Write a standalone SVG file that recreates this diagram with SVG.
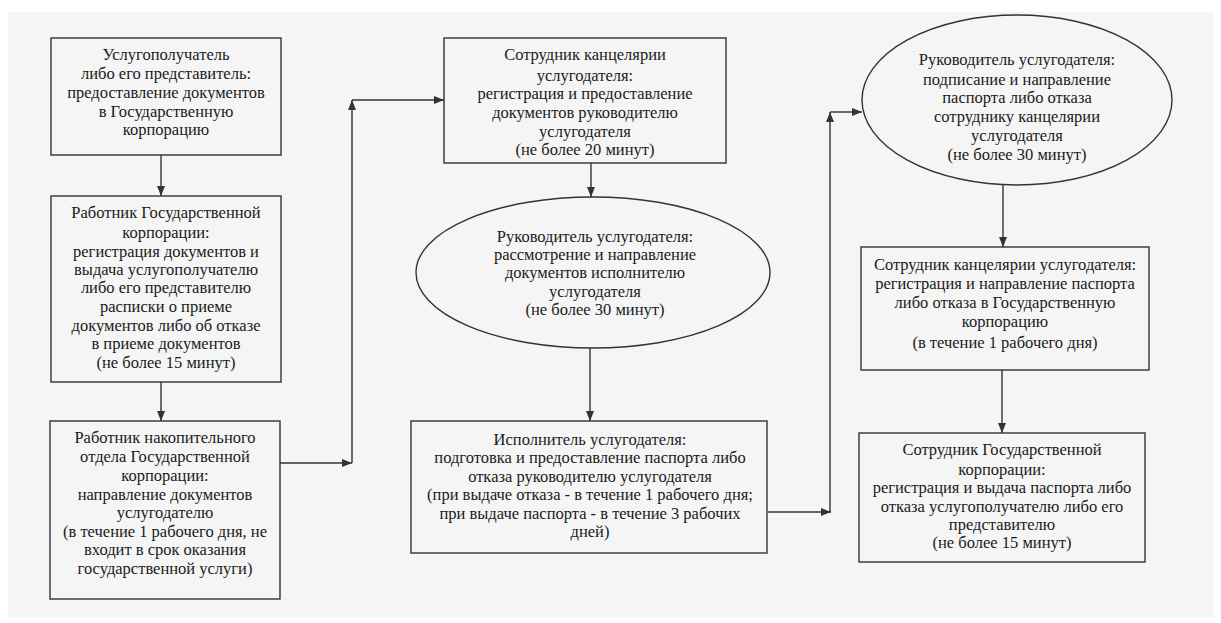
<svg xmlns="http://www.w3.org/2000/svg" width="1221" height="623" viewBox="0 0 1221 623">
<style>
.n{fill:none;stroke:#333;stroke-width:1.4}
.c{fill:none;stroke:#333;stroke-width:1.4}
text{font-family:"Liberation Serif","Times New Roman",serif;font-size:16.5px;fill:#1a1a1a;text-anchor:middle}
</style>
<defs>
<marker id="ah" viewBox="0 0 10 8" refX="10" refY="4" markerWidth="10" markerHeight="8" markerUnits="userSpaceOnUse" orient="auto">
<path d="M0,0 L10,4 L0,8 Z" fill="#333"/>
</marker>
</defs>
<rect x="0" y="0" width="1221" height="623" fill="#ffffff"/>
<rect x="8" y="12" width="1205" height="605" fill="#f5f5f5"/>

<g id="connectors">
<line class="c" x1="161" y1="155" x2="161" y2="196" marker-end="url(#ah)"/>
<line class="c" x1="161" y1="382" x2="161" y2="421" marker-end="url(#ah)"/>
<line class="c" x1="280" y1="463" x2="352" y2="463" marker-end="url(#ah)"/>
<line class="c" x1="352" y1="463" x2="352" y2="100" marker-end="url(#ah)"/>
<line class="c" x1="352" y1="100" x2="444" y2="100" marker-end="url(#ah)"/>
<line class="c" x1="591" y1="163" x2="591" y2="197" marker-end="url(#ah)"/>
<line class="c" x1="590" y1="348" x2="590" y2="421" marker-end="url(#ah)"/>
<line class="c" x1="768" y1="512" x2="831" y2="512" marker-end="url(#ah)"/>
<line class="c" x1="830" y1="512" x2="830" y2="112" marker-end="url(#ah)"/>
<line class="c" x1="830" y1="112" x2="862" y2="112" marker-end="url(#ah)"/>
<line class="c" x1="1003" y1="185" x2="1003" y2="247" marker-end="url(#ah)"/>
<line class="c" x1="1002" y1="370" x2="1002" y2="433" marker-end="url(#ah)"/>
</g>

<g id="n1">
<rect class="n" x="51" y="38" width="230" height="117"/>
<text x="166" y="60">Услугополучатель</text>
<text x="166" y="79">либо его представитель:</text>
<text x="166" y="98">предоставление документов</text>
<text x="166" y="117">в Государственную</text>
<text x="166" y="135">корпорацию</text>
</g>

<g id="n2">
<rect class="n" x="51" y="196" width="230" height="186"/>
<text x="166" y="218">Работник Государственной</text>
<text x="166" y="238">корпорации:</text>
<text x="166" y="257">регистрация документов и</text>
<text x="166" y="275">выдача услугополучателю</text>
<text x="166" y="293">либо его представителю</text>
<text x="166" y="312">расписки о приеме</text>
<text x="166" y="331">документов либо об отказе</text>
<text x="166" y="349">в приеме документов</text>
<text x="166" y="368">(не более 15 минут)</text>
</g>

<g id="n3">
<rect class="n" x="50" y="421" width="230" height="178"/>
<text x="165" y="443">Работник накопительного</text>
<text x="165" y="462">отдела Государственной</text>
<text x="165" y="481">корпорации:</text>
<text x="165" y="500">направление документов</text>
<text x="165" y="518">услугодателю</text>
<text x="165" y="537">(в течение 1 рабочего дня, не</text>
<text x="165" y="555">входит в срок оказания</text>
<text x="165" y="574">государственной услуги)</text>
</g>

<g id="n4">
<rect class="n" x="444" y="38" width="282" height="125"/>
<text x="585" y="60">Сотрудник канцелярии</text>
<text x="585" y="81">услугодателя:</text>
<text x="585" y="99">регистрация и предоставление</text>
<text x="585" y="118">документов руководителю</text>
<text x="585" y="137">услугодателя</text>
<text x="585" y="155">(не более 20 минут)</text>
</g>

<g id="n5">
<ellipse class="n" cx="593" cy="272.5" rx="177" ry="75.5"/>
<text x="595" y="242">Руководитель  услугодателя:</text>
<text x="595" y="260">рассмотрение и направление</text>
<text x="595" y="278">документов исполнителю</text>
<text x="595" y="297">услугодателя</text>
<text x="595" y="315">(не более 30 минут)</text>
</g>

<g id="n6">
<rect class="n" x="411" y="421" width="356" height="132"/>
<text x="590" y="445">Исполнитель услугодателя:</text>
<text x="590" y="463">подготовка и предоставление паспорта либо</text>
<text x="590" y="482">отказа руководителю услугодателя</text>
<text x="590" y="500">(при выдаче отказа - в течение 1 рабочего дня;</text>
<text x="590" y="519">при выдаче паспорта -  в течение 3 рабочих</text>
<text x="590" y="537">дней)</text>
</g>

<g id="n7">
<ellipse class="n" cx="1017" cy="100" rx="155" ry="85"/>
<text x="1017" y="65">Руководитель услугодателя:</text>
<text x="1017" y="85">подписание и направление</text>
<text x="1017" y="103">паспорта либо отказа</text>
<text x="1017" y="122">сотруднику канцелярии</text>
<text x="1017" y="141">услугодателя</text>
<text x="1017" y="160">(не более 30  минут)</text>
</g>

<g id="n8">
<rect class="n" x="861" y="247" width="288" height="123"/>
<text x="1005" y="270">Сотрудник канцелярии услугодателя:</text>
<text x="1005" y="289">регистрация и направление паспорта</text>
<text x="1005" y="308">либо отказа в Государственную</text>
<text x="1005" y="327">корпорацию</text>
<text x="1005" y="348">(в течение 1 рабочего дня)</text>
</g>

<g id="n9">
<rect class="n" x="859" y="433" width="286" height="129"/>
<text x="1002" y="455">Сотрудник Государственной</text>
<text x="1002" y="475">корпорации:</text>
<text x="1002" y="493">регистрация и выдача паспорта либо</text>
<text x="1002" y="512">отказа услугополучателю либо его</text>
<text x="1002" y="530">представителю</text>
<text x="1002" y="548">(не более 15 минут)</text>
</g>
</svg>
